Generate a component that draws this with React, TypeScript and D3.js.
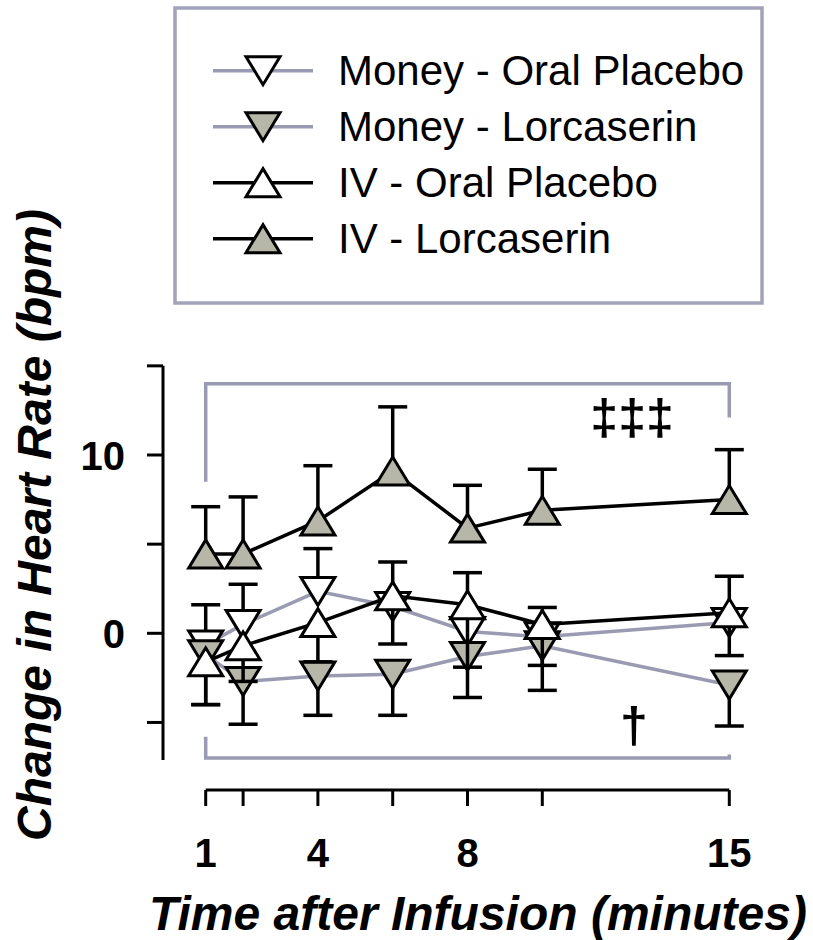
import React from "react";
import * as d3 from "d3";

// Sampling times (minutes after infusion)
const times = [1, 2, 4, 6, 8, 10, 15];

// Mean change in heart rate (bpm) and SEM per condition
const moneyPlaceboMean = [-0.65, 0.5, 2.35, 1.5, 0.1, -0.2, 0.6];
const moneyPlaceboSem = [2.25, 2.25, 2.4, 2.5, 3.3, 1.65, 2.6];
const moneyLorcMean = [-1.2, -2.7, -2.4, -2.3, -1.3, -0.7, -2.9];
const moneyLorcSem = [2.8, 2.4, 2.2, 2.3, 2.3, 2.5, 2.3];
const ivPlaceboMean = [-1.6, -0.7, 0.6, 2.1, 1.6, 0.5, 1.15];
const ivPlaceboSem = [2.4, 2.0, 2.2, 2.7, 3.5, 2.3, 2.4];
const ivLorcMean = [4.45, 4.45, 6.3, 9.1, 5.9, 6.9, 7.5];
const ivLorcSem = [2.65, 3.2, 3.1, 3.6, 2.4, 2.3, 2.8];

const seriesNames = [
  "Money - Oral Placebo",
  "Money - Lorcaserin",
  "IV - Oral Placebo",
  "IV - Lorcaserin",
];

const yTicks = [-5, 0, 5, 10, 15];
const yTickLabels = [0, 10];
const xTickLabels = [1, 4, 8, 15];

const FONT = "'Liberation Sans', Arial, Helvetica, sans-serif";
const GRAY_LINE = "#9a9ab2";
const FILL_GRAY = "#b7b7a9";

type Series = {
  name: string;
  mean: number[];
  sem: number[];
  dir: 1 | -1; // error bar direction (up / down)
  up: boolean; // triangle orientation
  fill: string;
  lineColor: string;
};

const series: Series[] = [
  { name: seriesNames[0], mean: moneyPlaceboMean, sem: moneyPlaceboSem, dir: 1, up: false, fill: "#ffffff", lineColor: GRAY_LINE },
  { name: seriesNames[1], mean: moneyLorcMean, sem: moneyLorcSem, dir: -1, up: false, fill: FILL_GRAY, lineColor: GRAY_LINE },
  { name: seriesNames[2], mean: ivPlaceboMean, sem: ivPlaceboSem, dir: -1, up: true, fill: "#ffffff", lineColor: "#000000" },
  { name: seriesNames[3], mean: ivLorcMean, sem: ivLorcSem, dir: 1, up: true, fill: FILL_GRAY, lineColor: "#000000" },
];

const TRI_W = 34;
const TRI_H = 28;
const CAP_W = 29;
const STROKE = 3.5;

function triPath(up: boolean) {
  const w = TRI_W / 2;
  const h = TRI_H / 2;
  return up
    ? `M${-w},${h}L0,${-h}L${w},${h}Z`
    : `M${-w},${-h}L0,${h}L${w},${-h}Z`;
}

export default function App() {
  const x = d3.scaleLinear().domain([1, 15]).range([205.7, 729.3]);
  const y = d3.scaleLinear().domain([0, 10]).range([633.3, 455]);

  const line = d3
    .line<number>()
    .x((_, i) => x(times[i]))
    .y((d) => y(d));

  const axisX = 163;
  const xAxisY = 790;

  return (
    <svg
      width={813}
      height={940}
      style={{ position: "absolute", left: 0, top: 0, background: "#fff" }}
      fontFamily={FONT}
    >
      {/* Legend */}
      <rect x={175} y={8} width={587} height={295} fill="none" stroke="#a2a2ba" strokeWidth={3.5} />
      {series.map((s, i) => {
        const cy = 70.7 + i * 56;
        return (
          <g key={s.name}>
            <line x1={213} x2={313} y1={cy} y2={cy} stroke={s.lineColor} strokeWidth={STROKE} />
            <path d={triPath(s.up)} transform={`translate(263,${cy})`} fill={s.fill} stroke="#000" strokeWidth={3} />
            <text x={338} y={cy + 14.5} fontSize={42} fill="#000">
              {s.name}
            </text>
          </g>
        );
      })}

      {/* Y axis */}
      <line x1={axisX} x2={axisX} y1={y(15)} y2={y(-7.1)} stroke="#000" strokeWidth={3} />
      {yTicks.map((t) => (
        <line key={t} x1={axisX - 16} x2={axisX} y1={y(t)} y2={y(t)} stroke="#000" strokeWidth={3} />
      ))}
      {yTickLabels.map((t) => (
        <text key={t} x={125} y={y(t) + 14.5} textAnchor="end" fontSize={40} fontWeight="bold" fill="#000">
          {t}
        </text>
      ))}
      <text
        transform={`translate(51,525) rotate(-90)`}
        textAnchor="middle"
        fontSize={48}
        fontWeight="bold"
        fontStyle="italic"
        fill="#000"
      >
        Change in Heart Rate (bpm)
      </text>

      {/* X axis */}
      <line x1={x(1)} x2={x(15)} y1={xAxisY} y2={xAxisY} stroke="#000" strokeWidth={3} />
      {times.map((t) => (
        <line key={t} x1={x(t)} x2={x(t)} y1={xAxisY} y2={xAxisY + 16} stroke="#000" strokeWidth={3} />
      ))}
      {xTickLabels.map((t) => (
        <text key={t} x={x(t)} y={866.7} textAnchor="middle" fontSize={40} fontWeight="bold" fill="#000">
          {t}
        </text>
      ))}
      <text x={478} y={930} textAnchor="middle" fontSize={48} fontWeight="bold" fontStyle="italic" fill="#000">
        Time after Infusion (minutes)
      </text>

      {/* Significance brackets */}
      <path
        d={`M${x(1)},${y(8.5)}V${y(14)}H${x(15)}V${y(12.1)}`}
        fill="none"
        stroke={GRAY_LINE}
        strokeWidth={3.5}
      />
      <path
        d={`M${x(1)},${y(-5.8)}V${y(-7)}H${x(15)}V${y(-6.8)}`}
        fill="none"
        stroke={GRAY_LINE}
        strokeWidth={3.5}
      />
      <text x={x(12.4)} y={434} textAnchor="middle" fontSize={50} fontWeight="bold" fill="#000">
        ‡‡‡
      </text>
      <text x={x(12.45)} y={742} textAnchor="middle" fontSize={50} fontWeight="bold" fill="#000">
        †
      </text>

      {/* Data series */}
      {series.map((s) => (
        <g key={s.name}>
          {s.mean.map((m, i) => {
            const end = m + s.dir * s.sem[i];
            const cx = x(times[i]);
            return (
              <g key={i}>
                <line x1={cx} x2={cx} y1={y(m)} y2={y(end)} stroke="#000" strokeWidth={STROKE} />
                <line x1={cx - CAP_W / 2} x2={cx + CAP_W / 2} y1={y(end)} y2={y(end)} stroke="#000" strokeWidth={STROKE} />
              </g>
            );
          })}
          <path d={line(s.mean) || ""} fill="none" stroke={s.lineColor} strokeWidth={STROKE} />
          {s.mean.map((m, i) => (
            <path
              key={i}
              d={triPath(s.up)}
              transform={`translate(${x(times[i])},${y(m)})`}
              fill={s.fill}
              stroke="#000"
              strokeWidth={3}
              strokeLinejoin="miter"
            />
          ))}
        </g>
      ))}
    </svg>
  );
}
